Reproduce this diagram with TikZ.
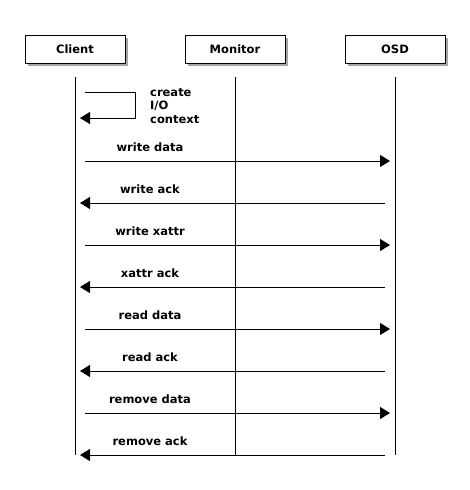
\documentclass[tikz,border=0pt]{standalone}
\usepackage{fontspec}
\setmainfont{DejaVu Sans}
\usetikzlibrary{arrows.meta,shadows}
\tikzset{
  actor/.style={draw=black,line width=1pt,fill=white,minimum width=100pt,minimum height=28pt,inner sep=0pt,
    font=\fontsize{11.5}{13}\selectfont\bfseries,
    drop shadow={shadow xshift=3pt,shadow yshift=-3pt,fill=black!50,opacity=0.7}},
  life/.style={line width=1pt},
  msg/.style={line width=1pt,-{Triangle[length=10pt,width=12pt]}},
  lbl/.style={font=\fontsize{11.5}{13}\selectfont\bfseries,inner sep=0pt},
}
\begin{document}
\begin{tikzpicture}[x=1pt,y=-1pt]
\useasboundingbox (0,0) rectangle (470,490);
\node[actor] (client) at (75,49) {Client};
\node[actor] (monitor) at (235,49) {Monitor};
\node[actor] (osd) at (395,49) {OSD};
% lifelines
\coordinate (ct) at (75,77); \coordinate (cb) at (75,455);
\coordinate (mt) at (235,77); \coordinate (mb) at (235,455);
\coordinate (ot) at (395,77); \coordinate (ob) at (395,455);
\draw[life] (ct) -- (cb);
\draw[life] (mt) -- (mb);
\draw[life] (ot) -- (ob);
% self message
\coordinate (s1) at (85,92);
\coordinate (s2) at (135,92);
\coordinate (s3) at (135,118);
\coordinate (s4) at (80,118);
\draw[msg] (s1) -- (s2) -- (s3) -- (s4);
\node[lbl,anchor=north west,align=left,font=\fontsize{11.5}{13.5}\selectfont\bfseries] (selflbl) at (150,88) {create\\I/O\\context};
% messages
\foreach \y/\a/\b [count=\i] in {161/write data/write ack, 245/write xattr/xattr ack, 329/read data/read ack, 413/remove data/remove ack}{
  \coordinate (f\i a) at (85,\y);
  \coordinate (f\i b) at (390,\y);
  \draw[msg] (f\i a) -- (f\i b);
  \node[lbl] (fl\i) at (150,\y-14) {\a};
  \coordinate (r\i a) at (385,\y+42);
  \coordinate (r\i b) at (80,\y+42);
  \draw[msg] (r\i a) -- (r\i b);
  \node[lbl] (rl\i) at (150,\y+28) {\b};
}
\end{tikzpicture}
\end{document}
